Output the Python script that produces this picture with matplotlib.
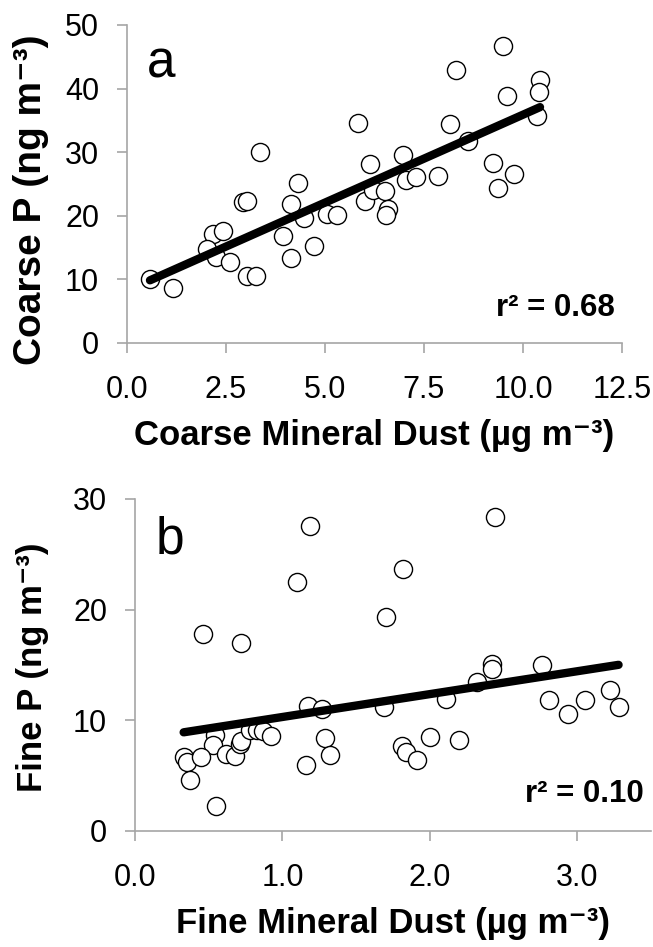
import matplotlib
matplotlib.use("Agg")
import matplotlib.pyplot as plt
import numpy as np

plt.rcParams['font.family'] = ['Liberation Sans', 'DejaVu Sans']

# coarse fraction (panel a)
coarse_dust = [0.58, 1.15, 3.36, 2.92, 3.02, 2.16, 2.43, 2.03, 2.26, 2.60,
               3.02, 3.26, 4.32, 4.15, 4.47, 3.93, 4.13, 4.72, 5.04, 5.30,
               5.84, 6.14, 6.01, 6.20, 6.52, 6.60, 6.54, 6.98, 7.05, 7.30,
               7.86, 8.16, 8.31, 8.60, 9.23, 9.38, 9.78, 9.49, 9.60, 10.43,
               10.41, 10.35]
coarse_p = [10.0, 8.7, 30.0, 22.1, 22.4, 17.1, 17.6, 14.8, 13.5, 12.7,
            10.5, 10.5, 25.1, 21.8, 19.7, 16.9, 13.3, 15.3, 20.3, 20.2,
            34.6, 28.1, 22.4, 24.0, 23.9, 21.0, 20.1, 29.5, 25.7, 26.1,
            26.2, 34.4, 43.0, 31.8, 28.3, 24.3, 26.6, 46.7, 38.9, 41.3,
            39.5, 35.7]

# fine fraction (panel b)
fine_dust = [1.19, 1.10, 0.46, 0.72, 1.175, 1.27, 0.54, 0.53, 0.33, 0.35,
             0.45, 0.37, 0.55, 0.62, 0.68, 0.71, 0.72, 0.78, 0.83, 0.87,
             0.92, 1.16, 1.29, 1.32, 2.44, 1.82, 1.70, 1.69, 2.11, 2.32,
             2.42, 2.42, 2.76, 2.81, 2.94, 3.05, 3.22, 3.28, 1.81, 1.84,
             1.91, 2.00, 2.20]
fine_p = [27.6, 22.5, 17.8, 17.0, 11.25, 11.0, 8.7, 7.8, 6.7, 6.2,
          6.7, 4.6, 2.3, 7.0, 6.8, 7.9, 8.1, 9.1, 9.1, 9.0,
          8.6, 6.0, 8.4, 6.9, 28.4, 23.7, 19.3, 11.2, 11.9, 13.5,
          15.1, 14.6, 15.0, 11.8, 10.6, 11.8, 12.7, 11.2, 7.7, 7.1,
          6.4, 8.5, 8.2]

coarse_xticks = [0.0, 2.5, 5.0, 7.5, 10.0, 12.5]
coarse_yticks = [0, 10, 20, 30, 40, 50]
fine_xticks = [0.0, 1.0, 2.0, 3.0]
fine_yticks = [0, 10, 20, 30]

panels = [
    dict(x=coarse_dust, y=coarse_p, xticks=coarse_xticks, yticks=coarse_yticks,
         xlim=(0, 12.5), ylim=(0, 50), letter='a', r2='r² = 0.68',
         xlabel='Coarse Mineral Dust (µg m⁻³)',
         ylabel='Coarse P (ng m⁻³)', ylabel_size=28),
    dict(x=fine_dust, y=fine_p, xticks=fine_xticks, yticks=fine_yticks,
         xlim=(0, 3.5), ylim=(0, 30), letter='b', r2='r² = 0.10',
         xlabel='Fine Mineral Dust (µg m⁻³)',
         ylabel='Fine P (ng m⁻³)', ylabel_size=25),
]

W, H = 653, 947
fig = plt.figure(figsize=(W / 100, H / 100), dpi=100)
# axes rectangles in pixels: left, top, right, bottom
boxes = [(127, 25, 622, 343), (135, 499, 651, 831)]
ylabel_y = [200, 667]

axis_grey = '#a6a6a6'

for p, (l, t, r, b), ly in zip(panels, boxes, ylabel_y):
    ax = fig.add_axes([l / W, 1 - b / H, (r - l) / W, (b - t) / H])
    x = np.array(p['x'])
    y = np.array(p['y'])

    ax.scatter(x, y, s=170, facecolors='white', edgecolors='black',
               linewidths=1.0, zorder=2)

    slope, intercept = np.polyfit(x, y, 1)
    xs = np.array([x.min(), x.max()])
    ax.plot(xs, slope * xs + intercept, color='black', lw=6,
            solid_capstyle='round', zorder=3)

    ax.set_xlim(*p['xlim'])
    ax.set_ylim(*p['ylim'])
    ax.set_xticks(p['xticks'])
    ax.set_xticklabels([f'{v:.1f}' for v in p['xticks']])
    ax.set_yticks(p['yticks'])

    for side in ['top', 'right']:
        ax.spines[side].set_visible(False)
    for side in ['left', 'bottom']:
        ax.spines[side].set_color(axis_grey)
        ax.spines[side].set_linewidth(1.2)
    ax.tick_params(axis='both', direction='out', length=7, width=1.2,
                   color=axis_grey, labelsize=22, labelcolor='black')
    ax.tick_params(axis='x', pad=16)
    ax.tick_params(axis='y', pad=13)

    ax.set_xlabel(p['xlabel'], fontsize=25, fontweight='bold', labelpad=10)
    ax.set_ylabel(p['ylabel'], fontsize=p['ylabel_size'], fontweight='bold')
    ax.yaxis.set_label_coords(49 / W, 1 - ly / H, transform=fig.transFigure)

    ax.text(0.04, 0.835, p['letter'], transform=ax.transAxes,
            fontsize=37, va='baseline', ha='left')
    ax.text(0.985, 0.086, p['r2'], transform=ax.transAxes,
            fontsize=22.5, fontweight='bold', va='baseline', ha='right')

fig.savefig('out.png', dpi=100)
